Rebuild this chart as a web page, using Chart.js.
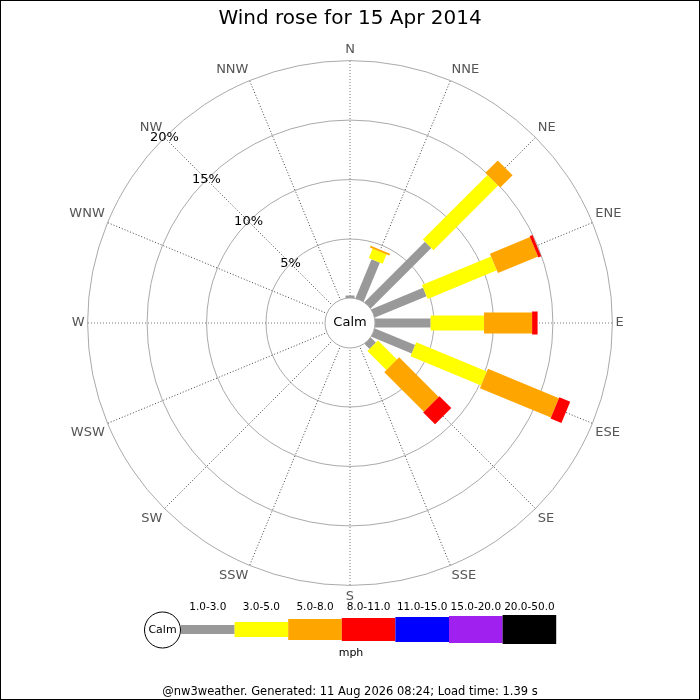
<!DOCTYPE html>
<html>
<head>
<meta charset="utf-8">
<title>Wind rose</title>
<script src="https://cdn.jsdelivr.net/npm/chart.js"></script>
<style>
  html, body { margin: 0; padding: 0; background: #fff; }
  canvas { display: block; }
</style>
</head>
<body>
<canvas id="windRose" width="700" height="700"></canvas>
<script>
const directions = ['N', 'NNE', 'NE', 'ENE', 'E', 'ESE', 'SE', 'SSE', 'S', 'SSW', 'SW', 'WSW', 'W', 'WNW', 'NW', 'NNW'];
const speedBins = ['1.0-3.0', '3.0-5.0', '5.0-8.0', '8.0-11.0', '11.0-15.0', '15.0-20.0', '20.0-50.0'];

// % of the day per direction, one array per speed bin (mph)
const speed1to3 = [0.25, 3.59, 7.23, 4.75, 4.72, 3.71, 0.64, 0, 0, 0, 0, 0, 0, 0, 0, 0];
const speed3to5 = [0, 0.86, 7.69, 6.29, 4.49, 6.42, 2.26, 0, 0, 0, 0, 0, 0, 0, 0, 0];
const speed5to8 = [0, 0.15, 1.47, 3.65, 4.04, 6.46, 4.71, 0, 0, 0, 0, 0, 0, 0, 0, 0];
const speed8to11 = [0, 0, 0, 0.25, 0.46, 0.99, 1.41, 0, 0, 0, 0, 0, 0, 0, 0, 0];
const speed11to15 = [0, 0, 0, 0, 0, 0, 0, 0, 0, 0, 0, 0, 0, 0, 0, 0];
const speed15to20 = [0, 0, 0, 0, 0, 0, 0, 0, 0, 0, 0, 0, 0, 0, 0, 0];
const speed20to50 = [0, 0, 0, 0, 0, 0, 0, 0, 0, 0, 0, 0, 0, 0, 0, 0];

const ringTicks = [5, 10, 15, 20];

const binValues = [speed1to3, speed3to5, speed5to8, speed8to11, speed11to15, speed15to20, speed20to50];
const binColours = ['#999999', '#ffff00', '#ffa500', '#ff0000', '#0000ff', '#a020f0', '#000000'];
const binWidths = [9, 15, 21, 23, 25, 27, 29];
const calmOffset = -2.06; // leaves room for the calm circle in the middle

Chart.defaults.font.family = 'DejaVu Sans';

// stack the bins so each dataset point is the outer end of its segment
let running = directions.map(() => 0);
const datasets = binValues.map((vals, k) => {
    running = running.map((r, i) => r + vals[i]);
    return {
        label: speedBins[k],
        data: running.slice(),
        showLine: false,
        pointRadius: 0,
        pointHoverRadius: 0,
        borderWidth: 0,
        fill: false
    };
});

const roseBars = {
    id: 'roseBars',
    beforeDraw(chart) {
        const ctx = chart.ctx;
        ctx.save();
        ctx.fillStyle = '#fff';
        ctx.fillRect(0, 0, chart.width, chart.height);
        ctx.restore();
    },
    afterDatasetsDraw(chart) {
        const scale = chart.scales.r;
        const ctx = chart.ctx;
        ctx.save();
        ctx.lineCap = 'butt';
        binValues.forEach((vals, k) => {
            const meta = chart.getDatasetMeta(k);
            vals.forEach((v, i) => {
                if (!v) return;
                const start = k === 0 ? scale.getPointPositionForValue(i, 0) : chart.getDatasetMeta(k - 1).data[i];
                const end = meta.data[i];
                ctx.strokeStyle = binColours[k];
                ctx.lineWidth = binWidths[k];
                ctx.beginPath();
                ctx.moveTo(start.x, start.y);
                ctx.lineTo(end.x, end.y);
                ctx.stroke();
            });
        });

        // calm circle
        const r0 = scale.getDistanceFromCenterForValue(0) + 0.5;
        ctx.fillStyle = '#fff';
        ctx.strokeStyle = '#aaa';
        ctx.lineWidth = 1;
        ctx.beginPath();
        ctx.arc(scale.xCenter, scale.yCenter, r0, 0, Math.PI * 2);
        ctx.fill();
        ctx.stroke();
        ctx.fillStyle = '#000';
        ctx.font = '13px "DejaVu Sans"';
        ctx.textAlign = 'center';
        ctx.textBaseline = 'middle';
        ctx.fillText('Calm', scale.xCenter, scale.yCenter);

        // ring labels along the NW spoke
        const nw = directions.indexOf('NW');
        ringTicks.forEach(v => {
            const p = scale.getPointPositionForValue(nw, v);
            ctx.fillText(v + '%', p.x, p.y);
        });
        ctx.restore();
    },
    afterDraw(chart) {
        const ctx = chart.ctx;
        ctx.save();
        // speed key
        const midY = 629.5;
        const x0 = 181;
        const segW = 53.6;
        ctx.textAlign = 'center';
        ctx.textBaseline = 'middle';
        speedBins.forEach((lab, k) => {
            const x = x0 + k * segW;
            ctx.fillStyle = binColours[k];
            ctx.fillRect(x, midY - binWidths[k] / 2, segW, binWidths[k]);
            ctx.fillStyle = '#000';
            ctx.font = '10.5px "DejaVu Sans"';
            ctx.fillText(lab, x + segW / 2, 607);
        });
        ctx.fillStyle = '#fff';
        ctx.strokeStyle = '#000';
        ctx.lineWidth = 1;
        ctx.beginPath();
        ctx.arc(162.5, 630, 18, 0, Math.PI * 2);
        ctx.fill();
        ctx.stroke();
        ctx.fillStyle = '#000';
        ctx.font = '11px "DejaVu Sans"';
        ctx.fillText('Calm', 162.5, 630);
        ctx.fillText('mph', 351, 653);

        // frame
        ctx.strokeStyle = '#000';
        ctx.strokeRect(0.5, 0.5, 699, 699);
        ctx.restore();
    }
};

const config = {
    type: 'radar',
    data: {
        labels: directions,
        datasets: datasets
    },
    options: {
        responsive: false,
        devicePixelRatio: 1,
        animation: false,
        events: [],
        layout: { padding: 0 },
        scales: {
            r: {
                min: calmOffset,
                max: 20,
                ticks: { display: false, stepSize: 5 },
                afterBuildTicks: scale => {
                    scale.ticks = ringTicks.map(v => ({ value: v }));
                },
                grid: { color: '#aaaaaa', lineWidth: 1, circular: true },
                angleLines: {
                    // main compass points are a lighter grey
                    color: ctx => (ctx.index % 4 === 0 ? '#777777' : '#444444'),
                    lineWidth: 1,
                    borderDash: [1, 2]
                },
                pointLabels: { color: '#555555', font: { size: 13 }, padding: 3 }
            }
        },
        plugins: {
            legend: { display: false },
            tooltip: { enabled: false },
            title: {
                display: true,
                text: 'Wind rose for 15 Apr 2014',
                color: '#000',
                font: { size: 20, weight: 'normal' },
                padding: { top: 7, bottom: 11 }
            },
            subtitle: {
                display: true,
                position: 'bottom',
                text: '@nw3weather. Generated: 11 Aug 2026 08:24; Load time: 1.39 s',
                color: '#000',
                font: { size: 11.5 },
                padding: { top: 80.5, bottom: 0.7 }
            }
        }
    },
    plugins: [roseBars]
};

new Chart(document.getElementById('windRose').getContext('2d'), config);
</script>
</body>
</html>
